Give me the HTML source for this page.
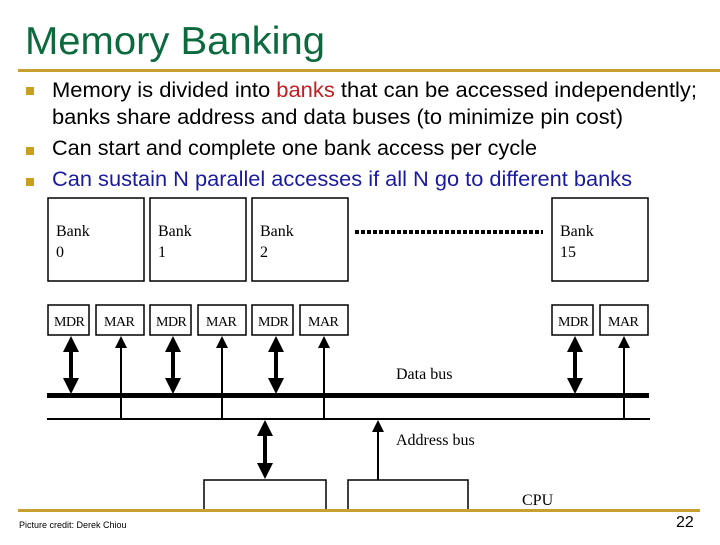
<!DOCTYPE html>
<html><head><meta charset="utf-8"><style>
body{margin:0;width:720px;height:540px;background:#fff;overflow:hidden}
</style></head><body>
<svg width="720" height="540" xmlns="http://www.w3.org/2000/svg" font-family="Liberation Serif, serif">
<defs>
<marker id="ta" markerWidth="4" markerHeight="4" refX="2" refY="2" orient="auto-start-reverse" markerUnits="strokeWidth"><path d="M0,0 L4,2 L0,4 z" fill="#000"/></marker>
<marker id="sa" markerWidth="6" markerHeight="6" refX="5" refY="3" orient="auto" markerUnits="strokeWidth"><path d="M0,0 L6,3 L0,6 z" fill="#000"/></marker>
</defs>
<text x="25" y="54" font-family="Liberation Sans, sans-serif" font-size="39" fill="#0b6a3e" textLength="300" lengthAdjust="spacingAndGlyphs">Memory Banking</text>
<rect x="18" y="69" width="702" height="3" fill="#c8a030"/>
<g fill="#c8a020"><rect x="26" y="87" width="8" height="8"/><rect x="26" y="147" width="8" height="8"/><rect x="26" y="178" width="8" height="8"/></g>
<g font-family="Liberation Sans, sans-serif" font-size="21" fill="#000">
<text x="52" y="97" textLength="645" lengthAdjust="spacingAndGlyphs">Memory is divided into <tspan fill="#c02020">banks</tspan> that can be accessed independently;</text>
<text x="52" y="124" textLength="571" lengthAdjust="spacingAndGlyphs">banks share address and data buses (to minimize pin cost)</text>
<text x="52" y="155" textLength="485" lengthAdjust="spacingAndGlyphs">Can start and complete one bank access per cycle</text>
<text x="52" y="186" fill="#1a1aa0" textLength="580" lengthAdjust="spacingAndGlyphs">Can sustain N parallel accesses if all N go to different banks</text>
</g>
<g fill="none" stroke="#000" stroke-width="1.5">
<rect x="48" y="198" width="96" height="83"/><rect x="150" y="198" width="96" height="83"/>
<rect x="252" y="198" width="96" height="83"/><rect x="552" y="198" width="96" height="83"/>
<rect x="48" y="305" width="41" height="30"/><rect x="96" y="305" width="48" height="30"/>
<rect x="150" y="305" width="41" height="30"/><rect x="198" y="305" width="48" height="30"/>
<rect x="252" y="305" width="41" height="30"/><rect x="300" y="305" width="48" height="30"/>
<rect x="552" y="305" width="41" height="30"/><rect x="600" y="305" width="48" height="30"/>
<rect x="204" y="480" width="122" height="30"/><rect x="348" y="480" width="120" height="30"/>
</g>
<line x1="355" y1="232" x2="543" y2="232" stroke="#000" stroke-width="4" stroke-dasharray="4,2"/>
<g font-size="16" fill="#000">
<text x="56" y="236">Bank</text><text x="56" y="257">0</text>
<text x="158" y="236">Bank</text><text x="158" y="257">1</text>
<text x="260" y="236">Bank</text><text x="260" y="257">2</text>
<text x="560" y="236">Bank</text><text x="560" y="257">15</text>
</g>
<g font-size="14" fill="#000" letter-spacing="-0.5">
<text x="54" y="326">MDR</text><text x="104" y="326">MAR</text>
<text x="156" y="326">MDR</text><text x="206" y="326">MAR</text>
<text x="258" y="326">MDR</text><text x="308" y="326">MAR</text>
<text x="558" y="326">MDR</text><text x="608" y="326">MAR</text>
</g>
<rect x="47" y="393" width="602" height="5" fill="#000"/>
<line x1="47" y1="419" x2="650" y2="419" stroke="#000" stroke-width="2"/>
<g stroke="#000" stroke-width="4" marker-start="url(#ta)" marker-end="url(#ta)">
<line x1="71" y1="344" x2="71" y2="386"/><line x1="173" y1="344" x2="173" y2="386"/>
<line x1="276" y1="344" x2="276" y2="386"/><line x1="575" y1="344" x2="575" y2="386"/>
<line x1="265" y1="428" x2="265" y2="471"/>
</g>
<g stroke="#000" stroke-width="2" marker-end="url(#sa)">
<line x1="121" y1="419" x2="121" y2="338"/><line x1="222" y1="419" x2="222" y2="338"/>
<line x1="324" y1="419" x2="324" y2="338"/><line x1="624" y1="419" x2="624" y2="338"/>
<line x1="378" y1="480" x2="378" y2="422"/>
</g>
<text x="396" y="379" font-size="16">Data bus</text>
<text x="396" y="445" font-size="16">Address bus</text>
<text x="522" y="505" font-size="16">CPU</text>
<rect x="18" y="509" width="682" height="3" fill="#c8a030"/>
<text x="19" y="528" font-family="Liberation Sans, sans-serif" font-size="9">Picture credit: Derek Chiou</text>
<text x="676" y="527" font-family="Liberation Sans, sans-serif" font-size="16">22</text>
</svg>
</body></html>
